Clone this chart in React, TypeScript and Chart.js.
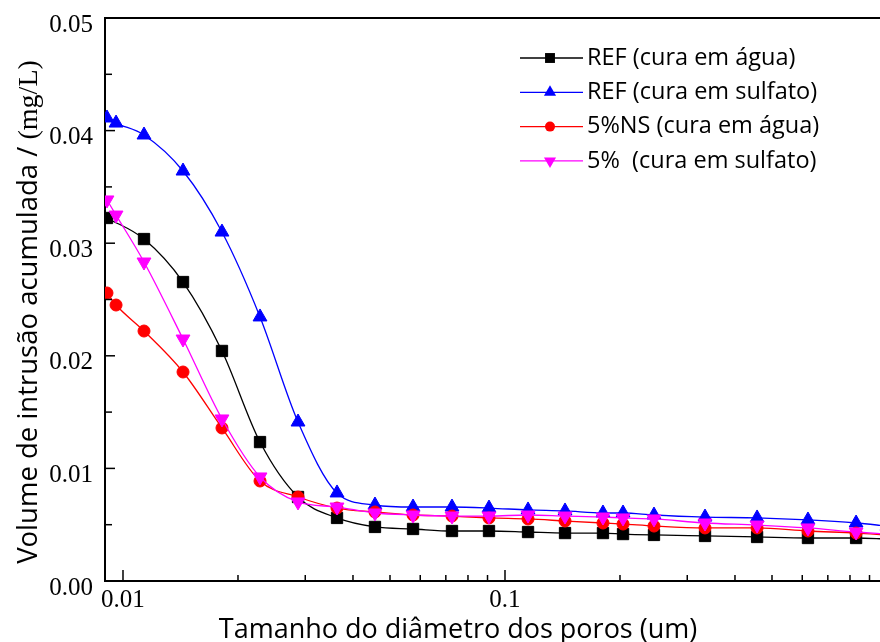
import React, { useEffect, useRef } from "react";
import { Chart, registerables } from "chart.js";
Chart.register(...registerables);

// Pore diameter (um)
const poreSize = [0.00908, 0.00959, 0.01135, 0.01436, 0.01816, 0.02284, 0.02872, 0.03633, 0.04567, 0.05745, 0.07265, 0.0908, 0.1149, 0.1436, 0.1805, 0.2037, 0.2455, 0.3339, 0.457, 0.621, 0.83, 1.0];
// Cumulative intrusion volume (mg/L)
const refWater = [0.03224, null, 0.03037, 0.02655, 0.02043, 0.01234, 0.00746, 0.0056, 0.0048, 0.00462, 0.00444, 0.00444, 0.00435, 0.00426, 0.00426, 0.00417, 0.00409, 0.004, 0.00391, 0.00382, 0.00382, 0.00373];
const refSulfate = [0.04112, 0.04067, 0.03961, 0.03641, 0.03099, 0.02345, 0.01412, 0.00782, 0.00675, 0.00657, 0.00657, 0.00648, 0.00631, 0.00622, 0.00604, 0.00604, 0.00586, 0.00568, 0.0056, 0.00542, 0.00515, 0.00488];
const nsWater = [0.02558, 0.02451, 0.0222, 0.01856, 0.01359, 0.00888, 0.00746, 0.00648, 0.00613, 0.00586, 0.00577, 0.0056, 0.00551, 0.00533, 0.00515, 0.00506, 0.00488, 0.00471, 0.00471, 0.00444, 0.00426, 0.00409];
const nsSulfate = [0.03384, 0.0325, 0.02833, 0.02149, 0.01439, 0.00924, 0.00702, 0.00657, 0.00604, 0.00586, 0.00577, 0.00577, 0.00586, 0.00577, 0.00568, 0.0056, 0.00551, 0.00515, 0.00497, 0.00471, 0.00435, 0.00417];

const seriesLabels = ["REF (cura em água)", "REF (cura em sulfato)", "5%NS (cura em água)", "5%  (cura em sulfato)"];
const seriesColors = ["#000000", "#0000ff", "#ff0000", "#ff00ff"];
const xTickLabels = [0.01, 0.1];
const xTitle = "Tamanho do diâmetro dos poros (um)";
const yTitleSans = "Volume de intrusão acumulada / ";
const yTitleSerif = "(mg/L)";

const SANS = '"Open Sans", "Noto Sans", sans-serif';
const SERIF = '"Liberation Serif", "DejaVu Serif", serif';

const marker = [
  { style: "rect", radius: 8, rotation: 0 },
  { style: "triangle", radius: 8, rotation: 0 },
  { style: "circle", radius: 6, rotation: 0 },
  { style: "triangle", radius: 8, rotation: 180 },
];

function drawMarker(ctx: CanvasRenderingContext2D, style: string, r: number, rot: number, x: number, y: number) {
  ctx.beginPath();
  if (style === "rect") {
    const s = Math.SQRT1_2 * r;
    ctx.rect(x - s, y - s, 2 * s, 2 * s);
  } else if (style === "circle") {
    ctx.arc(x, y, r, 0, Math.PI * 2);
  } else {
    let a = (rot * Math.PI) / 180;
    ctx.moveTo(x + Math.sin(a) * r, y - Math.cos(a) * r);
    a += (2 * Math.PI) / 3;
    ctx.lineTo(x + Math.sin(a) * r, y - Math.cos(a) * r);
    a += (2 * Math.PI) / 3;
    ctx.lineTo(x + Math.sin(a) * r, y - Math.cos(a) * r);
    ctx.closePath();
  }
  ctx.fill();
}

const framePlugin = {
  id: "frame",
  afterDraw(chart: any) {
    const { ctx, chartArea } = chart;
    const { left, right, top, bottom } = chartArea;
    const xs = chart.scales.x;
    const ys = chart.scales.y;
    ctx.save();
    ctx.strokeStyle = "#000";
    ctx.lineWidth = 2;
    ctx.beginPath();
    ctx.moveTo(left - 1, top);
    ctx.lineTo(880, top);
    ctx.stroke();
    ctx.lineWidth = 1.5;
    for (let d = 0.001; d <= 1; d *= 10) {
      for (let m = 1; m <= 9; m++) {
        const v = d * m;
        const px = xs.getPixelForValue(v);
        if (px < left + 2 || px > right) continue;
        const len = m === 1 ? 11 : 6;
        ctx.beginPath();
        ctx.moveTo(px, bottom);
        ctx.lineTo(px, bottom - len);
        ctx.stroke();
      }
    }
    for (let i = 1; i < 10; i++) {
      const v = i * 0.005;
      const py = ys.getPixelForValue(v);
      const len = i % 2 === 0 ? 10 : 7;
      ctx.beginPath();
      ctx.moveTo(left, py);
      ctx.lineTo(left + len, py);
      ctx.stroke();
    }
    ctx.fillStyle = "#000";
    ctx.textBaseline = "alphabetic";
    ctx.textAlign = "center";
    ctx.font = "27px " + SANS;
    ctx.fillText(xTitle, 458, 638);
    ctx.translate(37, 312);
    ctx.rotate(-Math.PI / 2);
    ctx.textAlign = "left";
    ctx.font = "27.5px " + SANS;
    const w1 = ctx.measureText(yTitleSans).width;
    ctx.font = "28px " + SERIF;
    const w2 = ctx.measureText(yTitleSerif).width;
    const start = -(w1 + w2) / 2;
    ctx.font = "27.5px " + SANS;
    ctx.fillText(yTitleSans, start, 0);
    ctx.font = "28px " + SERIF;
    ctx.fillText(yTitleSerif, start + w1, 0);
    ctx.restore();
  },
};

const legendPlugin = {
  id: "customLegend",
  afterDraw(chart: any) {
    const { ctx } = chart;
    ctx.save();
    seriesLabels.forEach((label, i) => {
      const y = 58 + i * 34.3;
      const c = seriesColors[i];
      ctx.strokeStyle = c;
      ctx.lineWidth = 1.3;
      ctx.beginPath();
      ctx.moveTo(520, y);
      ctx.lineTo(583, y);
      ctx.stroke();
      ctx.fillStyle = c;
      const mk = marker[i];
      drawMarker(ctx, mk.style, mk.radius - 1, mk.rotation, 550, y);
      ctx.fillStyle = "#000";
      ctx.font = "23.5px " + SANS;
      ctx.textAlign = "left";
      ctx.textBaseline = "middle";
      ctx.fillText(label, 587, y);
    });
    ctx.restore();
  },
};

export default function App() {
  const ref = useRef<HTMLCanvasElement | null>(null);
  useEffect(() => {
    document.body.style.margin = "0";
    const series = [refWater, refSulfate, nsWater, nsSulfate];
    const orders = [4, 3, 2, 1];
    const datasets = series.map((arr, i) => ({
      label: seriesLabels[i],
      data: poreSize.map((x, j) => ({ x, y: arr[j] })),
      borderColor: seriesColors[i],
      backgroundColor: seriesColors[i],
      borderWidth: 1.3,
      pointStyle: marker[i].style as any,
      pointRadius: marker[i].radius,
      pointRotation: marker[i].rotation,
      pointBorderWidth: 1,
      pointHoverRadius: marker[i].radius,
      cubicInterpolationMode: "monotone" as const,
      spanGaps: true,
      order: orders[i],
    }));
    const chart = new Chart(ref.current as HTMLCanvasElement, {
      type: "line",
      data: { datasets },
      options: {
        animation: false,
        responsive: false,
        devicePixelRatio: 1,
        layout: { autoPadding: false, padding: { left: 0, right: 0, top: 18, bottom: 0 } },
        plugins: { legend: { display: false }, tooltip: { enabled: false } },
        scales: {
          x: {
            type: "logarithmic",
            min: 0.008972,
            max: 0.9587,
            grid: { display: false, drawTicks: false },
            border: { display: true, color: "#000", width: 2 },
            ticks: {
              autoSkip: false,
              maxRotation: 0,
              padding: 4,
              color: "#000",
              font: { family: SERIF, size: 25 },
              callback: (v: any) => {
                const n = Number(v);
                const hit = xTickLabels.find((t) => Math.abs(n - t) / t < 1e-6);
                return hit !== undefined ? String(hit) : "";
              },
            },
            afterFit: (s: any) => {
              s.height = 61;
              s.paddingLeft = 0;
              s.paddingRight = 0;
            },
          },
          y: {
            min: 0,
            max: 0.05,
            grid: { display: false, drawTicks: false },
            border: { display: true, color: "#000", width: 2 },
            ticks: {
              stepSize: 0.01,
              padding: 12,
              labelOffset: 7,
              color: "#000",
              font: { family: SERIF, size: 25 },
              callback: (v: any) => Number(v).toFixed(2),
            },
            afterFit: (s: any) => {
              s.width = 105;
              s.paddingTop = 0;
              s.paddingBottom = 0;
            },
          },
        },
      },
      plugins: [framePlugin, legendPlugin],
    });
    return () => chart.destroy();
  }, []);
  return (
    <div style={{ position: "fixed", left: 0, top: 0, width: 880, height: 642, background: "#fff" }}>
      <canvas ref={ref} width={880} height={642} />
    </div>
  );
}
